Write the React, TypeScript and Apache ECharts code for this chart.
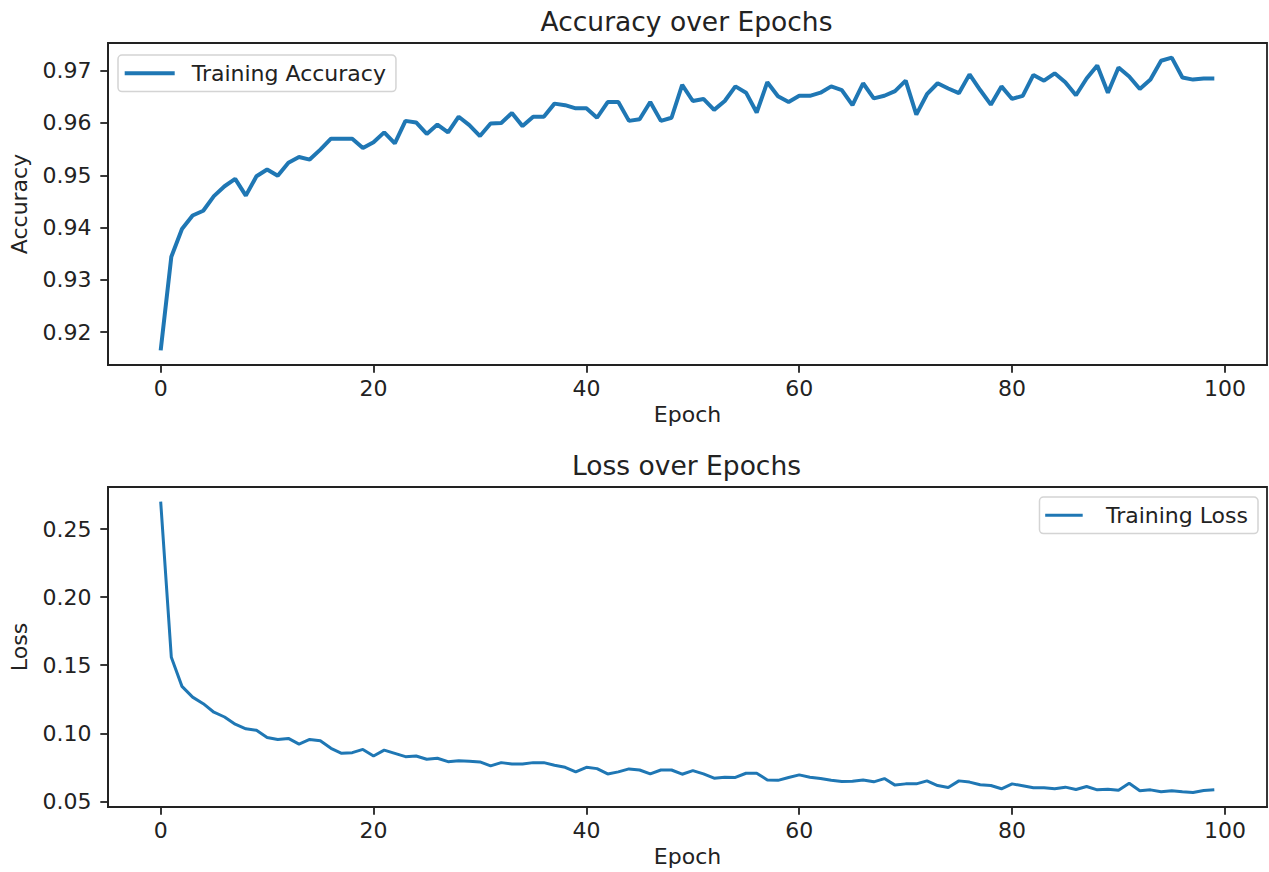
import React, { useEffect, useRef } from "react";
import * as echarts from "echarts";

const accuracy: number[] = [
  0.9165, 0.9344, 0.9397, 0.9423, 0.9432, 0.946, 0.9479, 0.9493, 0.9461, 0.9498,
  0.9511, 0.9499, 0.9524, 0.9535, 0.953, 0.9549, 0.957, 0.957, 0.957, 0.9552,
  0.9563, 0.9582, 0.9561, 0.9604, 0.9601, 0.9579, 0.9597, 0.9582, 0.9612, 0.9596,
  0.9575, 0.9599, 0.96, 0.9619, 0.9594, 0.9612, 0.9612, 0.9637, 0.9634, 0.9628,
  0.9628, 0.961, 0.964, 0.964, 0.9604, 0.9607, 0.964, 0.9604, 0.961, 0.9673,
  0.9642, 0.9646, 0.9625, 0.9642, 0.967, 0.9658, 0.962, 0.9678, 0.9651, 0.964,
  0.9652, 0.9652, 0.9658, 0.967, 0.9663, 0.9634, 0.9676, 0.9647, 0.9652, 0.9661,
  0.9681, 0.9616, 0.9655, 0.9676, 0.9666, 0.9657, 0.9693, 0.9663, 0.9635, 0.967,
  0.9646, 0.9652, 0.9692, 0.9681, 0.9695, 0.9678, 0.9653, 0.9685, 0.971, 0.9658,
  0.9706, 0.9689, 0.9665, 0.9683, 0.9719, 0.9725, 0.9687, 0.9683, 0.9685, 0.9685,
];

const loss: number[] = [
  0.2702, 0.1558, 0.1345, 0.1266, 0.1218, 0.1155, 0.112, 0.1067, 0.1033, 0.1023,
  0.097, 0.0955, 0.0963, 0.0921, 0.0955, 0.0945, 0.089, 0.0853, 0.0858, 0.0882,
  0.0834, 0.0877, 0.0853, 0.0829, 0.0834, 0.081, 0.0817, 0.0792, 0.0799, 0.0795,
  0.079, 0.0761, 0.0785, 0.0775, 0.0775, 0.0785, 0.0785, 0.0766, 0.0751, 0.0717,
  0.0751, 0.0741, 0.0702, 0.0717, 0.0739, 0.0731, 0.0702, 0.0731, 0.0731, 0.07,
  0.0726, 0.0702, 0.0671, 0.0678, 0.0676, 0.0707, 0.0707, 0.0658, 0.0655, 0.0676,
  0.0695, 0.0678, 0.0668, 0.0655, 0.0646, 0.0648, 0.0658, 0.0644, 0.0668, 0.062,
  0.0629, 0.0629, 0.0651, 0.0617, 0.0602, 0.0651, 0.0642, 0.0622, 0.0617, 0.0593,
  0.0629, 0.0615, 0.06, 0.06, 0.0593, 0.0605, 0.0588, 0.061, 0.0585, 0.059,
  0.0583, 0.0634, 0.0578, 0.0585, 0.0571, 0.0578, 0.0571, 0.0566, 0.058, 0.0585,
];

const epochTicks: number[] = [0, 20, 40, 60, 80, 100];
const accTicks: number[] = [0.92, 0.93, 0.94, 0.95, 0.96, 0.97];
const lossTicks: number[] = [0.05, 0.1, 0.15, 0.2, 0.25];

const titles = ["Accuracy over Epochs", "Loss over Epochs"];
const seriesNames = ["Training Accuracy", "Training Loss"];

const FONT = "DejaVu Sans";
const TEXT = "#222222";
const BLUE = "#1f77b4";
const BAR_ICON = "path://M0,0L50,0L50,4L0,4Z";

function padRange(vals: number[]): [number, number] {
  const mn = Math.min(...vals);
  const mx = Math.max(...vals);
  const m = (mx - mn) * 0.05;
  return [mn - m, mx + m];
}

export default function App() {
  const ref = useRef<HTMLDivElement>(null);

  useEffect(() => {
    if (!ref.current) return;
    const chart = echarts.init(ref.current, undefined, { renderer: "svg" });

    const epochs = accuracy.map((_, i) => i);
    const [xMin, xMax] = padRange(epochs);
    const [aMin, aMax] = padRange(accuracy);
    const [lMin, lMax] = padRange(loss);

    const axisLine = { show: true, onZero: false, lineStyle: { color: TEXT, width: 1.8 } };
    const axisTick = (vals: number[]) => ({
      show: true,
      length: 7.7,
      lineStyle: { color: TEXT, width: 1.8 },
      customValues: vals,
    });
    const labelStyle = { fontFamily: FONT, fontSize: 22, color: TEXT };

    const xAxisBase = (gridIndex: number) => ({
      type: "value" as const,
      gridIndex,
      min: xMin,
      max: xMax,
      name: "Epoch",
      nameLocation: "middle" as const,
      nameGap: 38,
      nameTextStyle: { ...labelStyle },
      axisLine,
      axisTick: axisTick(epochTicks),
      axisLabel: {
        ...labelStyle,
        margin: 12,
        customValues: epochTicks,
        formatter: (v: number) => String(Math.round(v)),
      },
      splitLine: { show: false },
    });

    const yAxisBase = (gridIndex: number, mn: number, mx: number, ticks: number[], name: string) => ({
      type: "value" as const,
      gridIndex,
      min: mn,
      max: mx,
      name,
      nameLocation: "middle" as const,
      nameGap: 78,
      nameTextStyle: { ...labelStyle },
      axisLine,
      axisTick: axisTick(ticks),
      axisLabel: {
        ...labelStyle,
        margin: 16.5,
        customValues: ticks,
        formatter: (v: number) => v.toFixed(2),
      },
      splitLine: { show: false },
    });

    const legendBase = {
      orient: "horizontal" as const,
      itemWidth: 50,
      icon: BAR_ICON,
      backgroundColor: "rgba(255,255,255,0.8)",
      borderColor: "#d4d4d4",
      borderWidth: 1.5,
      borderRadius: 4,
      textStyle: { fontFamily: FONT, fontSize: 22, color: TEXT, padding: [0, 0, 0, 12] },
    };

    chart.setOption({
      animation: false,
      backgroundColor: "#ffffff",
      title: [
        {
          text: titles[0],
          left: 686.5,
          top: 8,
          textAlign: "center",
          padding: 0,
          textStyle: { fontFamily: FONT, fontSize: 26.5, fontWeight: "normal", color: TEXT },
        },
        {
          text: titles[1],
          left: 686.5,
          top: 452,
          textAlign: "center",
          padding: 0,
          textStyle: { fontFamily: FONT, fontSize: 26.5, fontWeight: "normal", color: TEXT },
        },
      ],
      legend: [
        {
          ...legendBase,
          itemHeight: 4,
          data: [seriesNames[0]],
          left: 118,
          top: 55,
          padding: [7.3, 10, 7.3, 6.7],
        },
        {
          ...legendBase,
          itemHeight: 3,
          data: [seriesNames[1]],
          right: 11,
          top: 497,
          padding: [7.3, 10, 7.3, 5.7],
        },
      ],
      grid: [
        { left: 106, right: 2, top: 43, height: 322, show: true, borderColor: TEXT, borderWidth: 1.8, backgroundColor: "transparent" },
        { left: 106, right: 2, top: 487, height: 320, show: true, borderColor: TEXT, borderWidth: 1.8, backgroundColor: "transparent" },
      ],
      xAxis: [xAxisBase(0), xAxisBase(1)],
      yAxis: [
        yAxisBase(0, aMin, aMax, accTicks, "Accuracy"),
        yAxisBase(1, lMin, lMax, lossTicks, "Loss"),
      ],
      series: [
        {
          name: seriesNames[0],
          type: "line",
          xAxisIndex: 0,
          yAxisIndex: 0,
          data: accuracy.map((v, i) => [epochs[i], v]),
          symbol: "none",
          showSymbol: false,
          lineStyle: { color: BLUE, width: 4 },
          itemStyle: { color: BLUE },
        },
        {
          name: seriesNames[1],
          type: "line",
          xAxisIndex: 1,
          yAxisIndex: 1,
          data: loss.map((v, i) => [epochs[i], v]),
          symbol: "none",
          showSymbol: false,
          lineStyle: { color: BLUE, width: 3 },
          itemStyle: { color: BLUE },
        },
      ],
    });

    return () => chart.dispose();
  }, []);

  return (
    <div
      ref={ref}
      style={{ position: "fixed", left: 0, top: 0, width: 1269, height: 872, background: "#fff" }}
    />
  );
}
